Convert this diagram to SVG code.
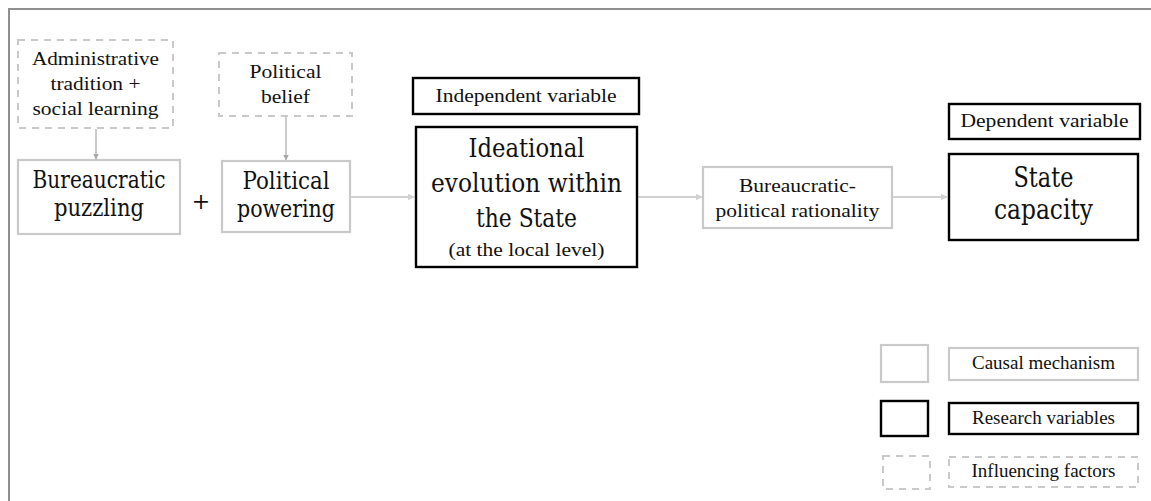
<svg xmlns="http://www.w3.org/2000/svg" width="1151" height="501" viewBox="0 0 1151 501">
  <defs>
    <style>
      .mech { fill: #fff; stroke: #c9c9c9; stroke-width: 2.2; }
      .var { fill: #fff; stroke: #000; stroke-width: 2.4; }
      .infl { fill: #fff; stroke: #c9c9c9; stroke-width: 2; stroke-dasharray: 7 6; }
      .flow { stroke: #d2d2d2; stroke-width: 2; fill: none; }
      .feed { stroke: #a8a8a8; stroke-width: 1.2; fill: none; }
      text { fill: #111; text-anchor: middle; }
      .sm { font-family: "Liberation Serif", "Times New Roman", serif; font-size: 19px; }
      .big { font-family: "DejaVu Serif", serif; }
    </style>
    <marker id="headFlow" viewBox="0 0 10 10" refX="9" refY="5" markerWidth="3.5" markerHeight="3.5" orient="auto">
      <path d="M0,0 L10,5 L0,10 z" fill="#d2d2d2"/>
    </marker>
    <marker id="headFeed" viewBox="0 0 10 10" refX="9" refY="5" markerWidth="5" markerHeight="5" orient="auto">
      <path d="M0,0 L10,5 L0,10 z" fill="#a8a8a8"/>
    </marker>
  </defs>

  <rect width="1151" height="501" fill="#fff"/>
  <!-- outer frame -->
  <path d="M9,501 V9 H1151" fill="none" stroke="#8f8f8f" stroke-width="2"/>

  <g id="connectors">
    <line class="feed" x1="96" y1="129" x2="96" y2="159" marker-end="url(#headFeed)"/>
    <line class="feed" x1="286" y1="117" x2="286" y2="160" marker-end="url(#headFeed)"/>
    <line class="flow" x1="351" y1="197" x2="414" y2="197" marker-end="url(#headFlow)"/>
    <line class="flow" x1="638" y1="197" x2="702" y2="197" marker-end="url(#headFlow)"/>
    <line class="flow" x1="893" y1="197" x2="947" y2="197" marker-end="url(#headFlow)"/>
  </g>

  <g id="admin-tradition">
    <rect class="infl" x="18" y="40" width="155" height="88"/>
    <text class="sm" x="95.5" y="65" textLength="127" lengthAdjust="spacingAndGlyphs">Administrative</text>
    <text class="sm" x="95.5" y="90" textLength="90" lengthAdjust="spacingAndGlyphs">tradition +</text>
    <text class="sm" x="95.5" y="115" textLength="126" lengthAdjust="spacingAndGlyphs">social learning</text>
  </g>

  <g id="political-belief">
    <rect class="infl" x="219" y="53" width="133" height="63"/>
    <text class="sm" x="285.5" y="78" textLength="72" lengthAdjust="spacingAndGlyphs">Political</text>
    <text class="sm" x="285.5" y="103" textLength="49" lengthAdjust="spacingAndGlyphs">belief</text>
  </g>

  <g id="bureaucratic-puzzling">
    <rect class="mech" x="18" y="160" width="162" height="74"/>
    <text class="big" font-size="23.5" x="99" y="188" textLength="133" lengthAdjust="spacingAndGlyphs">Bureaucratic</text>
    <text class="big" font-size="23.5" x="99" y="216" textLength="90" lengthAdjust="spacingAndGlyphs">puzzling</text>
  </g>

  <g id="plus">
    <text class="big" font-size="22" x="201" y="209">+</text>
  </g>

  <g id="political-powering">
    <rect class="mech" x="222" y="161" width="128" height="71"/>
    <text class="big" font-size="23.5" x="286" y="189" textLength="87" lengthAdjust="spacingAndGlyphs">Political</text>
    <text class="big" font-size="23.5" x="286" y="217" textLength="98" lengthAdjust="spacingAndGlyphs">powering</text>
  </g>

  <g id="independent-label">
    <rect class="var" x="413" y="78" width="226" height="36"/>
    <text class="sm" x="526" y="102" textLength="181" lengthAdjust="spacingAndGlyphs">Independent variable</text>
  </g>

  <g id="ideational-evolution">
    <rect class="var" x="416" y="127" width="221" height="140"/>
    <text class="big" font-size="26" x="526.5" y="157" textLength="116" lengthAdjust="spacingAndGlyphs">Ideational</text>
    <text class="big" font-size="26" x="526.5" y="192" textLength="191" lengthAdjust="spacingAndGlyphs">evolution within</text>
    <text class="big" font-size="26" x="526.5" y="227" textLength="101" lengthAdjust="spacingAndGlyphs">the State</text>
    <text class="sm" x="526.5" y="256" textLength="156" lengthAdjust="spacingAndGlyphs">(at the local level)</text>
  </g>

  <g id="bureaucratic-political">
    <rect class="mech" x="703" y="167" width="189" height="61"/>
    <text class="sm" x="797.5" y="192" textLength="117" lengthAdjust="spacingAndGlyphs">Bureaucratic-</text>
    <text class="sm" x="797.5" y="217" textLength="164" lengthAdjust="spacingAndGlyphs">political rationality</text>
  </g>

  <g id="dependent-label">
    <rect class="var" x="949" y="104" width="191" height="35"/>
    <text class="sm" x="1044.5" y="127" textLength="168" lengthAdjust="spacingAndGlyphs">Dependent variable</text>
  </g>

  <g id="state-capacity">
    <rect class="var" x="949" y="154" width="189" height="86"/>
    <text class="big" font-size="27" x="1043.5" y="187" textLength="60" lengthAdjust="spacingAndGlyphs">State</text>
    <text class="big" font-size="27" x="1043.5" y="219" textLength="99" lengthAdjust="spacingAndGlyphs">capacity</text>
  </g>

  <g id="legend">
    <rect class="mech" x="881" y="345" width="47" height="37"/>
    <rect class="mech" x="949" y="348" width="189" height="32"/>
    <text class="sm" x="1043.5" y="369">Causal mechanism</text>
    <rect class="var" x="881" y="401" width="47" height="35"/>
    <rect class="var" x="949" y="403" width="189" height="31"/>
    <text class="sm" x="1043.5" y="424">Research variables</text>
    <rect class="infl" x="883" y="456" width="47" height="33"/>
    <rect class="infl" x="949" y="457" width="189" height="30"/>
    <text class="sm" x="1043.5" y="477">Influencing factors</text>
  </g>
</svg>
